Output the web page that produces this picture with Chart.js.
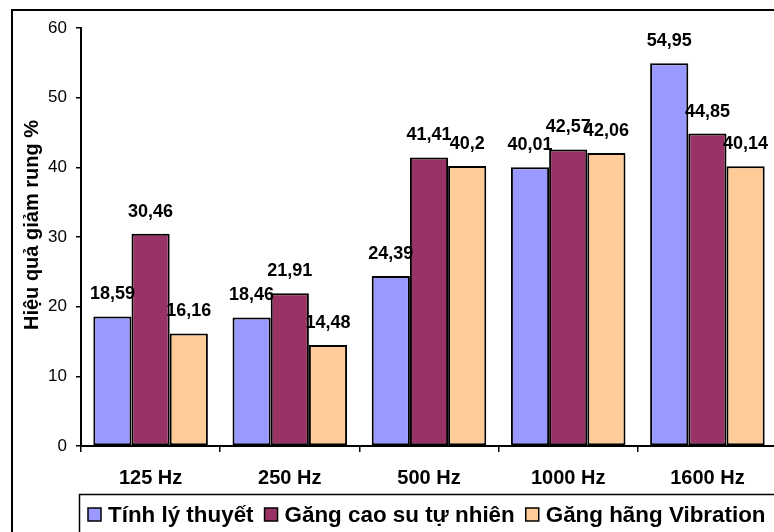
<!DOCTYPE html>
<html>
<head>
<meta charset="utf-8">
<script src="https://cdn.jsdelivr.net/npm/chart.js@4.4.0/dist/chart.umd.min.js"></script>
<style>
  html, body { margin: 0; padding: 0; background: #fff; overflow: hidden; width: 774px; height: 532px; }
  canvas { display: block; }
</style>
</head>
<body>
<canvas id="c" width="800" height="560" style="width:800px;height:560px"></canvas>
<script>
const categories = ['125 Hz', '250 Hz', '500 Hz', '1000 Hz', '1600 Hz'];
const seriesNames = ['Tính lý thuyết', 'Găng cao su tự nhiên', 'Găng hãng Vibration'];
const tinhLyThuyet = [18.59, 18.46, 24.39, 40.01, 54.95];
const gangCaoSu = [30.46, 21.91, 41.41, 42.57, 44.85];
const gangVibration = [16.16, 14.48, 40.2, 42.06, 40.14];
const yMin = 0, yMax = 60, yStep = 10;
const yTitle = 'Hiệu quả giảm rung %';

const FONT = '"Liberation Sans", Arial, sans-serif';
const colors = ['#9999FF', '#993366', '#FFCC99'];

const fmt = v => String(v).replace('.', ',');

const decorPlugin = {
  id: 'decor',
  afterDraw(chart) {
    const ctx = chart.ctx;
    ctx.save();
    // outer border
    ctx.strokeStyle = '#000';
    ctx.lineWidth = 2;
    ctx.strokeRect(12, 10, 1000, 1000);
    // y title
    ctx.save();
    ctx.translate(32, 225);
    ctx.rotate(-Math.PI / 2);
    ctx.font = 'bold 20px ' + FONT;
    ctx.fillStyle = '#000';
    ctx.textAlign = 'center';
    ctx.textBaseline = 'middle';
    ctx.fillText(yTitle, 0, 0);
    ctx.restore();
    // data labels
    ctx.font = 'bold 18px ' + FONT;
    ctx.fillStyle = '#000';
    ctx.textAlign = 'center';
    ctx.textBaseline = 'middle';
    chart.data.datasets.forEach((ds, i) => {
      const meta = chart.getDatasetMeta(i);
      meta.data.forEach((bar, j) => {
        ctx.fillText(fmt(ds.data[j]), bar.x, bar.y - 22);
      });
    });
    // legend box
    ctx.lineWidth = 1.5;
    ctx.strokeStyle = '#000';
    ctx.strokeRect(79.5, 494.5, 1000, 100);
    ctx.font = 'bold 22.4px ' + FONT;
    ctx.textAlign = 'left';
    ctx.textBaseline = 'middle';
    let x = 88;
    const cy = 514.5;
    chart.data.datasets.forEach((ds) => {
      ctx.fillStyle = ds.backgroundColor;
      ctx.fillRect(x, cy - 6.5, 13, 13);
      ctx.lineWidth = 1.5;
      ctx.strokeStyle = '#000';
      ctx.strokeRect(x, cy - 6.5, 13, 13);
      ctx.fillStyle = '#000';
      ctx.fillText(ds.label, x + 20, cy + 1);
      x += 20 + ctx.measureText(ds.label).width + 11;
    });
    ctx.restore();
  }
};

new Chart(document.getElementById('c'), {
  type: 'bar',
  data: {
    labels: categories,
    datasets: [
      { label: seriesNames[0], data: tinhLyThuyet, backgroundColor: colors[0] },
      { label: seriesNames[1], data: gangCaoSu, backgroundColor: colors[1] },
      { label: seriesNames[2], data: gangVibration, backgroundColor: colors[2] }
    ].map(d => Object.assign(d, { borderColor: '#000', borderWidth: 2, borderSkipped: false }))
  },
  options: {
    responsive: false,
    animation: false,
    devicePixelRatio: 1,
    layout: { padding: { left: 0, top: 28, right: 23, bottom: 64 } },
    plugins: { legend: { display: false }, tooltip: { enabled: false } },
    datasets: { bar: { categoryPercentage: 0.823, barPercentage: 1.0 } },
    scales: {
      x: {
        afterFit(s) { s.height = 50; },
        grid: { drawOnChartArea: false, drawTicks: true, tickLength: 6, color: '#000', lineWidth: 1.5, offset: true },
        border: { display: true, color: '#000', width: 2 },
        ticks: { color: '#000', font: { family: FONT, size: 20, weight: 'bold' }, padding: 14, maxRotation: 0 }
      },
      y: {
        min: yMin, max: yMax,
        afterFit(s) { s.width = 81; },
        grid: { drawOnChartArea: false, drawTicks: true, tickLength: 5, color: '#000', lineWidth: 1.5 },
        border: { display: true, color: '#000', width: 2 },
        ticks: { stepSize: yStep, color: '#000', font: { family: FONT, size: 17 }, padding: 9 }
      }
    }
  },
  plugins: [decorPlugin]
});
</script>
</body>
</html>
